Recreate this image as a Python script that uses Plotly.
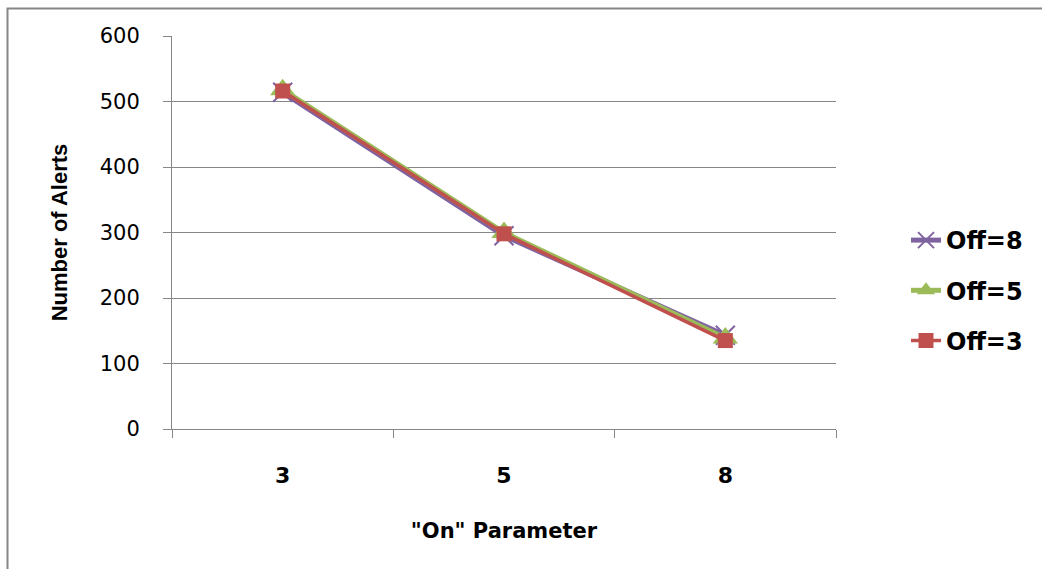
import plotly.graph_objects as go

categories = ["3", "5", "8"]
off8 = [514, 295, 143]
off5 = [518, 300, 139]
off3 = [516, 298, 135]
series_names = ["Off=8", "Off=5", "Off=3"]

L, R, T, B = 172, 1042 - 836, 36, 569 - 429
W, H = 1042, 569
pw, ph = W - L - R, H - T - B

def px(x):
    return (x - L) / pw

def py(y):
    return (H - B - y) / ph

fig = go.Figure()
fig.add_trace(go.Scatter(
    x=categories, y=off8, name=series_names[0], mode="lines+markers",
    line=dict(color="#7F63A1", width=5),
    marker=dict(symbol="x-thin", size=19, line=dict(color="#7F63A1", width=2)),
    legendgroup="a"))
fig.add_trace(go.Scatter(
    x=categories, y=off5, name=series_names[1], mode="lines+markers",
    line=dict(color="#9BBB59", width=5),
    marker=dict(symbol="triangle-up", size=22, color="#9BBB59"),
    legendgroup="b"))
fig.add_trace(go.Scatter(
    x=categories, y=off3, name=series_names[2], mode="lines+markers",
    line=dict(color="#C0504D", width=3.5),
    marker=dict(symbol="square", size=15, color="#C0504D"),
    legendgroup="c"))

fig.update_layout(
    width=W, height=H,
    margin=dict(l=L, r=R, t=T, b=B, autoexpand=False),
    paper_bgcolor="white", plot_bgcolor="white",
    font=dict(family="DejaVu Sans", color="black"),
    showlegend=True,
    legend=dict(x=px(906), y=py(218), xanchor="left", yanchor="top",
                font=dict(family="DejaVu Sans", size=24, weight="bold"),
                tracegroupgap=16, bgcolor="rgba(0,0,0,0)"),
    xaxis=dict(
        type="category", range=[-0.5, 2.5], tickson="boundaries",
        ticks="outside", ticklen=8, tickcolor="#868686", tickwidth=1,
        showline=True, linecolor="#868686", linewidth=1,
        showgrid=False, zeroline=False,
        tickfont=dict(size=22, weight="bold"),
        ticklabelstandoff=27,
        title=dict(text='"On" Parameter', font=dict(size=21, weight="bold"), standoff=35),
    ),
    yaxis=dict(
        range=[0, 600], dtick=100, tickmode="linear",
        ticks="outside", ticklen=8, tickcolor="#868686", tickwidth=1,
        showline=True, linecolor="#868686", linewidth=1,
        showgrid=True, gridcolor="#868686", gridwidth=1, zeroline=False,
        tickfont=dict(size=21),
        ticklabelstandoff=19,
        title=dict(text="Number of Alerts", font=dict(family="Liberation Sans Narrow, Liberation Sans", size=22, weight="bold"), standoff=26),
    ),
    shapes=[dict(type="rect", xref="paper", yref="paper",
                 x0=px(7.5), x1=px(1060), y0=py(600), y1=py(8.5),
                 line=dict(color="#868686", width=2), fillcolor="rgba(0,0,0,0)", layer="below")],
)

fig.write_html("out.html")
